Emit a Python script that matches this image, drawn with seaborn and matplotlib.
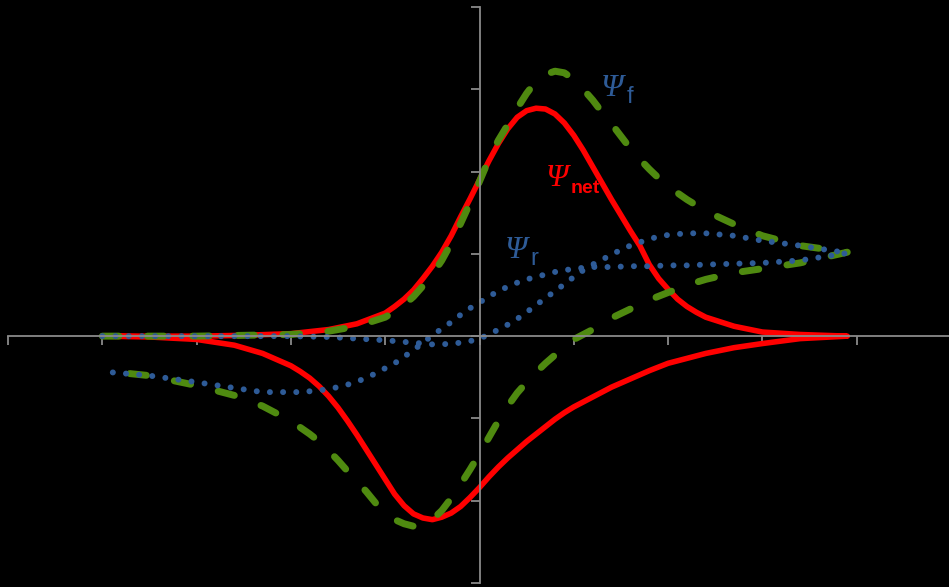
import pandas as pd
import seaborn as sns
import matplotlib.pyplot as plt

# forward sweep (left -> right)
E_fwd = [-4.0, -3.5, -3.0, -2.5, -2.0, -1.6, -1.3, -1.0,
         -0.9, -0.8, -0.7, -0.6, -0.5, -0.4, -0.3, -0.2, -0.1, 0.0,
         0.1, 0.2, 0.3, 0.4, 0.5, 0.6, 0.7, 0.8, 0.9, 1.0,
         1.1, 1.2, 1.3, 1.4, 1.5, 1.6, 1.7, 1.8, 1.9, 2.0,
         2.1, 2.2, 2.3, 2.4, 2.7, 3.0, 3.4, 3.9]
psi_net_fwd = [0.0, 0.0, 0.0, 0.01, 0.03, 0.08, 0.15, 0.28,
               0.36, 0.45, 0.56, 0.70, 0.85, 1.02, 1.22, 1.45, 1.67, 1.90,
               2.13, 2.34, 2.52, 2.66, 2.74, 2.77, 2.76, 2.70, 2.59, 2.44,
               2.26, 2.06, 1.86, 1.66, 1.47, 1.28, 1.10, 0.87, 0.70, 0.57,
               0.45, 0.36, 0.29, 0.23, 0.12, 0.05, 0.02, 0.0]
psi_f_fwd = [0.0, 0.0, 0.0, 0.01, 0.02, 0.06, 0.12, 0.23,
             0.30, 0.38, 0.48, 0.61, 0.75, 0.92, 1.13, 1.37, 1.62, 1.88,
             2.15, 2.38, 2.57, 2.77, 2.95, 3.10, 3.18, 3.22, 3.20, 3.12,
             3.00, 2.87, 2.72, 2.58, 2.43, 2.28, 2.15, 2.03, 1.92, 1.83,
             1.74, 1.66, 1.59, 1.52, 1.36, 1.22, 1.10, 1.02]
psi_r_fwd = [0.0, 0.0, 0.0, 0.0, 0.0, -0.01, -0.03, -0.05,
             -0.06, -0.07, -0.08, -0.09, -0.10, -0.10, -0.09, -0.08, -0.06, -0.03,
             0.02, 0.08, 0.14, 0.21, 0.29, 0.38, 0.46, 0.55, 0.63, 0.72,
             0.80, 0.87, 0.93, 0.99, 1.05, 1.10, 1.14, 1.18, 1.21, 1.23,
             1.24, 1.25, 1.25, 1.25, 1.22, 1.16, 1.10, 1.01]

# reverse sweep (right -> left)
E_rev = [3.9, 3.4, 3.0, 2.7, 2.4, 2.2, 2.0, 1.8, 1.6, 1.4, 1.2, 1.0,
         0.9, 0.8, 0.7, 0.6, 0.5, 0.4, 0.3, 0.2, 0.1, 0.0,
         -0.1, -0.2, -0.3, -0.4, -0.5, -0.6, -0.7, -0.8, -0.9, -1.0,
         -1.1, -1.2, -1.3, -1.4, -1.5, -1.6, -1.7, -1.8, -1.9, -2.0,
         -2.3, -2.6, -3.0, -3.5, -4.0]
psi_net_rev = [0.0, -0.03, -0.09, -0.14, -0.21, -0.27, -0.33, -0.42, -0.52, -0.62, -0.74, -0.86,
               -0.93, -1.01, -1.10, -1.19, -1.28, -1.38, -1.48, -1.59, -1.71, -1.84,
               -1.96, -2.07, -2.15, -2.20, -2.23, -2.21, -2.16, -2.06, -1.92, -1.74,
               -1.56, -1.38, -1.20, -1.03, -0.87, -0.73, -0.61, -0.51, -0.43, -0.36,
               -0.21, -0.11, -0.04, -0.01, 0.0]
psi_f_rev = [1.02, 0.89, 0.82, 0.77, 0.69, 0.62, 0.53, 0.44, 0.33, 0.22, 0.08, -0.04,
             -0.13, -0.23, -0.33, -0.44, -0.56, -0.69, -0.85, -1.03, -1.23, -1.43,
             -1.62, -1.80, -1.97, -2.12, -2.23, -2.30, -2.31, -2.28, -2.23, -2.15,
             -2.03, -1.89, -1.76, -1.64, -1.51, -1.39, -1.28, -1.19, -1.11, -1.03,
             -0.85, -0.72, -0.60, -0.48, -0.42]
psi_r_rev = [1.01, 0.92, 0.89, 0.88, 0.87, 0.86, 0.86, 0.85, 0.85, 0.84, 0.84, 0.82,
             0.80, 0.78, 0.75, 0.72, 0.69, 0.65, 0.60, 0.55, 0.48, 0.41,
             0.34, 0.26, 0.17, 0.09, 0.01, -0.08, -0.17, -0.25, -0.33, -0.39,
             -0.45, -0.51, -0.55, -0.59, -0.62, -0.64, -0.66, -0.67, -0.68, -0.68,
             -0.68, -0.63, -0.56, -0.48, -0.43]

RED = '#ff0000'
GREEN = '#4f8a10'
BLUE = '#2e5b97'
AXIS = '#8a8a8a'

df = pd.DataFrame({
    'E': E_fwd + E_rev,
    'net': psi_net_fwd + psi_net_rev,
    'f': psi_f_fwd + psi_f_rev,
    'r': psi_r_fwd + psi_r_rev,
})

sns.set_theme(style='white', rc={'axes.facecolor': 'black', 'figure.facecolor': 'black'})

fig = plt.figure(figsize=(9.49, 5.87), dpi=100)
ax = fig.add_axes([8 / 949, 4 / 587, 943 / 949, 576 / 587])

sns.lineplot(data=df, x='E', y='net', sort=False, estimator=None, color=RED,
             linewidth=4, solid_capstyle='round', solid_joinstyle='round', ax=ax)
sns.lineplot(data=df, x='E', y='f', sort=False, estimator=None, color=GREEN,
             linewidth=5, linestyle=(0, (2.4, 4.1)), dash_capstyle='round',
             dash_joinstyle='round', ax=ax)
sns.lineplot(data=df, x='E', y='r', sort=False, estimator=None, color=BLUE,
             linewidth=4.3, linestyle=(0, (0.01, 2.2)), dash_capstyle='round', ax=ax)

ax.set_xlim(-5, 5)
ax.set_ylim(-3, 4)
ax.set_xticks(range(-5, 6))
ax.set_yticks(range(-3, 5))
ax.set_xlabel('')
ax.set_ylabel('')

for side in ['top', 'right']:
    ax.spines[side].set_visible(False)
for side in ['left', 'bottom']:
    ax.spines[side].set_position(('data', 0))
    ax.spines[side].set_color(AXIS)
    ax.spines[side].set_linewidth(1.3)

ax.tick_params(axis='both', direction='out', length=6.5, width=1.3, color=AXIS,
               labelbottom=False, labelleft=False, bottom=True, left=True)

serif = ['Liberation Serif', 'DejaVu Serif']
sans = ['Liberation Sans', 'DejaVu Sans']

ax.text(1.283, 2.92, 'Ψ', color=BLUE, fontsize=23, family=serif, style='italic')
ax.text(1.56, 2.835, 'f', color=BLUE, fontsize=17, family=sans)
ax.text(0.700, 1.825, 'Ψ', color=RED, fontsize=23, family=serif, style='italic')
ax.text(0.97, 1.740, 'net', color=RED, fontsize=14, family=sans, fontweight='bold')
ax.text(0.265, 0.950, 'Ψ', color=BLUE, fontsize=23, family=serif, style='italic')
ax.text(0.54, 0.864, 'r', color=BLUE, fontsize=17, family=sans)

fig.savefig('out.png', dpi=100, facecolor='black')
